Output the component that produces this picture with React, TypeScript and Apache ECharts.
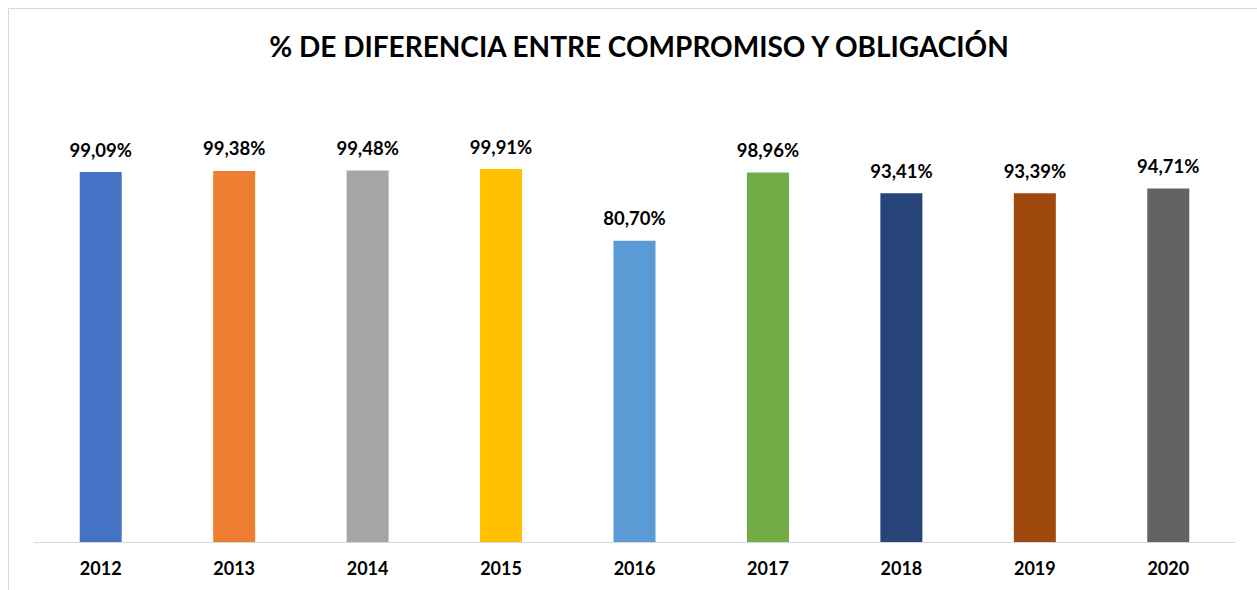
import React, { useEffect, useRef } from "react";
import * as echarts from "echarts";

const titleText = "% DE DIFERENCIA ENTRE COMPROMISO Y OBLIGACIÓN";
const years = ["2012", "2013", "2014", "2015", "2016", "2017", "2018", "2019", "2020"];
const values = [99.09, 99.38, 99.48, 99.91, 80.7, 98.96, 93.41, 93.39, 94.71];
const barColors = ["#4472C4", "#ED7D31", "#A5A5A5", "#FFC000", "#5B9BD5", "#70AD47", "#264478", "#9E480E", "#636363"];

const FONT = "Lato, 'Noto Sans', sans-serif";

export default function App() {
  const ref = useRef<HTMLDivElement>(null);
  useEffect(() => {
    document.body.style.overflow = "hidden";
    const chart = echarts.init(ref.current!, undefined, { renderer: "svg" });
    chart.setOption({
      animation: false,
      backgroundColor: "#ffffff",
      title: {
        text: titleText,
        left: 634,
        top: 27,
        textAlign: "center",
        textStyle: { fontFamily: FONT, fontWeight: "bold", fontSize: 28, color: "#000000" },
      },
      graphic: [
        { type: "line", shape: { x1: 8.5, y1: 8.5, x2: 1257, y2: 8.5 }, style: { stroke: "#d9d9d9", lineWidth: 1 } },
        { type: "line", shape: { x1: 8.5, y1: 8.5, x2: 8.5, y2: 590 }, style: { stroke: "#d9d9d9", lineWidth: 1 } },
      ],
      grid: { left: 34, right: 22, top: 94, bottom: 48, containLabel: false },
      xAxis: {
        type: "category",
        data: years,
        axisLine: { lineStyle: { color: "#d9d9d9", width: 1 } },
        axisTick: { show: false },
        axisLabel: { fontFamily: FONT, fontWeight: "bold", fontSize: 18, color: "#000000", margin: 17 },
      },
      yAxis: { type: "value", min: 0, max: 120, show: false, splitLine: { show: false } },
      series: [
        {
          type: "bar",
          barWidth: 42,
          data: values.map((v, i) => ({ value: v, itemStyle: { color: barColors[i] } })),
          label: {
            show: true,
            position: "top",
            distance: 13,
            fontFamily: FONT,
            fontWeight: "bold",
            fontSize: 18.5,
            color: "#000000",
            formatter: (p: any) => p.value.toFixed(2).replace(".", ",") + "%",
          },
        },
      ],
    });
    return () => chart.dispose();
  }, []);
  return <div ref={ref} style={{ position: "fixed", left: 0, top: 0, width: 1257, height: 590 }} />;
}
